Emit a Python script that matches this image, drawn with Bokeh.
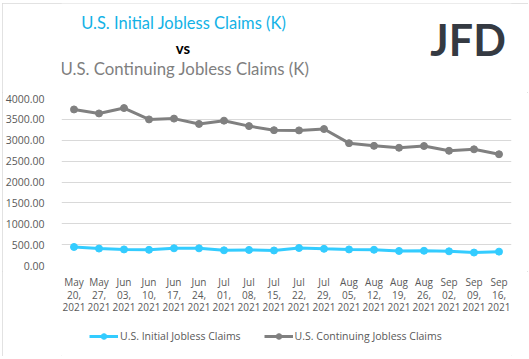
from bokeh.plotting import figure
from bokeh.layouts import column
from bokeh.models import (Range1d, FixedTicker, Legend, LegendItem,
                          NumeralTickFormatter)
from bokeh.core.properties import value
from bokeh.embed import file_html
from bokeh.resources import INLINE

# ---- data ----
months = ["May", "May", "Jun", "Jun", "Jun", "Jun", "Jul", "Jul", "Jul",
          "Jul", "Jul", "Aug", "Aug", "Aug", "Aug", "Sep", "Sep", "Sep"]
days = ["20,", "27,", "03,", "10,", "17,", "24,", "01,", "08,", "15,",
        "22,", "29,", "05,", "12,", "19,", "26,", "02,", "09,", "16,"]
years = ["2021"] * 18
initial_claims = [444, 406, 385, 376, 412, 411, 364, 373, 360, 419, 400,
                  385, 377, 348, 353, 340, 310, 332]
continuing_claims = [3738, 3642, 3771, 3499, 3518, 3390, 3469, 3339, 3241,
                     3236, 3269, 2930, 2866, 2820, 2862, 2748, 2783, 2665]
y_ticks = [0, 500, 1000, 1500, 2000, 2500, 3000, 3500, 4000]

title_1 = "U.S. Initial Jobless Claims (K)"
title_vs = "vs"
title_2 = "U.S. Continuing Jobless Claims (K)"
logo = "JFD"
series_names = ["U.S. Initial Jobless Claims", "U.S. Continuing Jobless Claims"]

BLUE = "#33CCFF"
GRAY = "#808080"
TXT = "#595959"

# ---- layout geometry (page pixels) ----
W = 526
OX, OY = 2, 3                 # outer box offset on the page
ML, MR = 58, 17               # frame from page x 60 to 511
H_HEAD = 89                   # page y 3 .. 92
MT, MB = 6, 6
FRAME_H = 167                 # page y 98 .. 265
H_MAIN = MT + FRAME_H + MB    # page y 92 .. 271
H_FOOT = 85                   # page y 271 .. 356

n = len(months)
xs = list(range(n))
xr = Range1d(-0.5, n - 0.5)


def blank(height, x_range, y_range):
    f = figure(width=W, height=height, output_backend="svg",
               toolbar_location=None, x_axis_location=None,
               y_axis_location=None, min_border_left=ML,
               min_border_right=MR, min_border_top=0, min_border_bottom=0,
               x_range=x_range, y_range=y_range)
    f.grid.visible = False
    f.outline_line_color = None
    f.border_fill_color = "white"
    f.background_fill_color = "white"
    return f


# ---- header (coordinates = page pixels) ----
head = blank(H_HEAD, Range1d(OX + ML, OX + W - MR), Range1d(OY + H_HEAD, OY))


def htext(t, x, y, size, color, bold=False, font="Lato"):
    head.text(x=[x], y=[y], text=[t], text_align="center",
              text_baseline="middle", text_font=value(font),
              text_font_size=size, text_color=color,
              text_font_style="bold" if bold else "normal")


htext(title_1, 182.5, 22.5, "16.5px", "#13B2E6")
htext(title_vs, 181.7, 47.5, "15px", "#000000", bold=True)
htext(title_2, 183.7, 68.3, "16.8px", "#7F7F7F")
htext(logo, 467.5, 38.5, "43px", "#353A42", bold=True)

# ---- main chart ----
p = figure(width=W, height=H_MAIN, output_backend="svg", toolbar_location=None,
           x_range=xr, y_range=Range1d(0, 4000), x_axis_location=None,
           min_border_left=ML, min_border_right=MR,
           min_border_top=MT, min_border_bottom=MB,
           background_fill_color="white", border_fill_color="white")
p.outline_line_color = None

p.xgrid.grid_line_color = None
p.ygrid.grid_line_color = "#D9D9D9"
p.ygrid.grid_line_width = 1
p.ygrid.ticker = FixedTicker(ticks=y_ticks)

p.yaxis.ticker = FixedTicker(ticks=y_ticks)
p.yaxis.formatter = NumeralTickFormatter(format="0.00")
p.yaxis.axis_line_color = None
p.yaxis.major_tick_line_color = None
p.yaxis.minor_tick_line_color = None
p.yaxis.major_label_standoff = 11
p.yaxis.major_label_text_font = "Open Sans"
p.yaxis.major_label_text_font_size = "10.5px"
p.yaxis.major_label_text_color = TXT

p.line(xs, initial_claims, line_color=BLUE, line_width=3)
p.scatter(xs, initial_claims, size=7, fill_color=BLUE, line_color=BLUE)
p.line(xs, continuing_claims, line_color=GRAY, line_width=3)
p.scatter(xs, continuing_claims, size=7, fill_color=GRAY, line_color=GRAY)

# ---- footer: category labels (shared x scale) + legend ----
fy0 = OY + H_HEAD + H_MAIN
foot = blank(H_FOOT, xr, Range1d(fy0 + H_FOOT, fy0))
for row, yy in ((months, 281.5), (days, 294.0), (years, 306.5)):
    foot.text(x=xs, y=[yy] * n, text=row, text_align="center",
              text_baseline="middle", text_font=value("Open Sans"),
              text_font_size="10px", text_color=TXT)

# legend sample renderers (kept outside the visible range)
off = [-1000]
fl1 = foot.line(x=off, y=off, line_color=BLUE, line_width=3)
fs1 = foot.scatter(x=off, y=off, size=7, fill_color=BLUE, line_color=BLUE)
fl2 = foot.line(x=off, y=off, line_color=GRAY, line_width=3)
fs2 = foot.scatter(x=off, y=off, size=7, fill_color=GRAY, line_color=GRAY)

legend = Legend(items=[LegendItem(label=series_names[0], renderers=[fl1, fs1]),
                       LegendItem(label=series_names[1], renderers=[fl2, fs2])],
                orientation="horizontal", location=(28, 13))
legend.padding = 0
legend.margin = 0
legend.spacing = 23
legend.glyph_width = 29
legend.glyph_height = 14
legend.label_height = 14
legend.label_standoff = 2
legend.label_text_font = "Open Sans"
legend.label_text_font_size = "10.5px"
legend.label_text_color = TXT
legend.border_line_color = None
legend.background_fill_alpha = 0
foot.add_layout(legend, "center")

layout = column(head, p, foot, spacing=0)
layout.styles = {"outline": "1px solid #D9D9D9", "outline-offset": "-1px",
                 "margin-left": f"{OX}px", "margin-top": f"{OY}px"}

open("out.html", "w").write(file_html(layout, INLINE))
